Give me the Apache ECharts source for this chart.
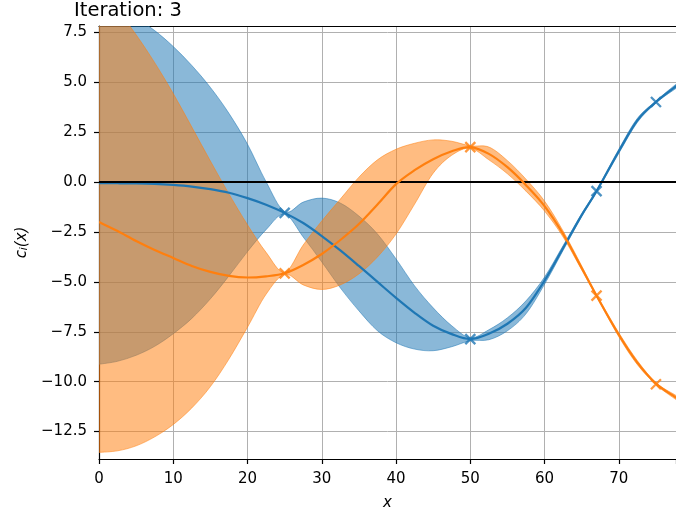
<!DOCTYPE html>
<html>
<head>
<meta charset="utf-8">
<script src="https://cdn.jsdelivr.net/npm/echarts@6/dist/echarts.min.js"></script>
<style>
  html, body { margin: 0; padding: 0; background: #ffffff; }
  #chart { width: 676px; height: 516px; }
</style>
</head>
<body>
<div id="chart"></div>
<script>
// Sample positions along x
const xs = [0, 2.5, 5, 7.5, 10, 12.5, 15, 17.5, 20, 22.5, 25, 27.5, 30, 32.5, 35, 37.5, 40, 42.5, 45, 47.5, 50,
            52.5, 55, 57.5, 60, 62.5, 65, 67, 70, 72.5, 75, 77.5, 78];

// Component 1 (blue): posterior mean and band
const blueMean = [-0.05, -0.055, -0.065, -0.09, -0.14, -0.22, -0.35, -0.53, -0.8, -1.13, -1.54, -2.05, -2.7, -3.42, -4.2, -5.0, -5.8, -6.55, -7.2, -7.62, -7.87,
                  -7.6, -7.1, -6.3, -4.94, -3.3, -1.65, -0.45, 1.55, 3.1, 4.02, 4.75, 4.85];
const blueLo = [-9.13, -8.98, -8.68, -8.23, -7.6, -6.83, -5.85, -4.7, -3.48, -2.38, -1.6, -2.75, -4.0, -5.3, -6.45, -7.45, -8.05, -8.37, -8.45, -8.25, -7.95,
                -7.9, -7.45, -6.6, -5.12, -3.42, -1.72, -0.5, 1.45, 3.0, 3.97, 4.65, 4.75];
const blueHi = [8.92, 8.67, 8.22, 7.6, 6.8, 5.85, 4.75, 3.45, 1.9, 0.02, -1.48, -1.0, -0.8, -1.05, -1.7, -2.6, -3.85, -5.2, -6.3, -7.2, -7.8,
                -7.4, -6.8, -5.95, -4.76, -3.18, -1.58, -0.4, 1.65, 3.2, 4.07, 4.85, 4.95];

// Component 2 (orange): posterior mean and band
const orangeMean = [-2.0, -2.45, -2.95, -3.4, -3.8, -4.2, -4.5, -4.7, -4.78, -4.72, -4.57, -4.15, -3.6, -2.9, -2.1, -1.12, -0.1, 0.6, 1.15, 1.55, 1.76,
                    1.42, 0.75, -0.15, -1.2, -2.6, -4.3, -5.69, -7.65, -9.05, -10.1, -10.75, -10.85];
const orangeLo = [-13.55, -13.47, -13.22, -12.77, -12.15, -11.32, -10.25, -8.87, -7.27, -5.62, -4.62, -5.15, -5.38, -5.15, -4.6, -3.75, -2.6, -1.1, 0.45, 1.35, 1.7,
                  1.12, 0.42, -0.45, -1.45, -2.75, -4.4, -5.74, -7.75, -9.15, -10.15, -10.85, -10.95];
const orangeHi = [9.77, 8.64, 7.39, 5.99, 4.44, 2.76, 1.06, -0.59, -2.14, -3.52, -4.52, -3.15, -1.95, -0.85, 0.25, 1.12, 1.65, 1.95, 2.12, 2.05, 1.82,
                  1.76, 1.08, 0.15, -0.95, -2.45, -4.2, -5.64, -7.55, -8.95, -10.05, -10.65, -10.75];

// Observed points
const obsX = [25, 50, 67, 75];
const blueObs = [-1.54, -7.87, -0.45, 4.02];
const orangeObs = [-4.57, 1.76, -5.69, -10.13];

// Axis ticks
const xTicks = [0, 10, 20, 30, 40, 50, 60, 70];
const yTicks = [-12.5, -10, -7.5, -5, -2.5, 0, 2.5, 5, 7.5];

const BLUE = '#1f77b4';
const ORANGE = '#ff7f0e';
const BLUE_FILL = 'rgba(31,119,180,0.52)';
const ORANGE_FILL = 'rgba(255,127,14,0.52)';
const FONT = 'DejaVu Sans';

function pairs(x, y) { return x.map((v, i) => [v, y[i]]); }

// Cubic Bezier segments (Catmull-Rom tangents) through a list of pixel points
function curveTo(pts, first) {
  const n = pts.length;
  let d = (first ? 'M' : 'L') + pts[0][0].toFixed(2) + ' ' + pts[0][1].toFixed(2);
  for (let i = 0; i < n - 1; i++) {
    const p0 = pts[Math.max(i - 1, 0)], p1 = pts[i], p2 = pts[i + 1], p3 = pts[Math.min(i + 2, n - 1)];
    const c1 = [p1[0] + (p2[0] - p0[0]) / 6, p1[1] + (p2[1] - p0[1]) / 6];
    const c2 = [p2[0] - (p3[0] - p1[0]) / 6, p2[1] - (p3[1] - p1[1]) / 6];
    d += ' C' + c1[0].toFixed(2) + ' ' + c1[1].toFixed(2) + ' ' + c2[0].toFixed(2) + ' ' + c2[1].toFixed(2) +
         ' ' + p2[0].toFixed(2) + ' ' + p2[1].toFixed(2);
  }
  return d;
}

function clipRect(cs) {
  return { type: 'rect', shape: { x: cs.x, y: cs.y, width: cs.width, height: cs.height } };
}

// Filled band between lo and hi, drawn once as a closed curved shape
function bandSeries(lo, hi, fill) {
  return {
    type: 'custom',
    silent: true,
    z: 2,
    data: xs.map((x, i) => [x, lo[i], hi[i]]),
    encode: { x: 0, y: [1, 2] },
    renderItem: function (params, api) {
      if (params.dataIndex !== 0) return null;
      const upper = xs.map((x, i) => api.coord([x, hi[i]]));
      const lower = xs.map((x, i) => api.coord([x, lo[i]])).reverse();
      return {
        type: 'path',
        shape: { pathData: curveTo(upper, true) + ' ' + curveTo(lower, false) + ' Z' },
        style: { fill: fill, stroke: fill, lineWidth: 1 },
        clipPath: clipRect(params.coordSys)
      };
    }
  };
}

// Mean curve, drawn with the same curve construction as the bands
function curveSeries(y, color, z) {
  return {
    type: 'custom',
    silent: true,
    z: z,
    data: pairs(xs, y),
    encode: { x: 0, y: 1 },
    renderItem: function (params, api) {
      if (params.dataIndex !== 0) return null;
      const pts = xs.map((x, i) => api.coord([x, y[i]]));
      return {
        type: 'path',
        shape: { pathData: curveTo(pts, true) },
        style: { fill: null, stroke: color, lineWidth: 2.2, lineJoin: 'round', lineCap: 'butt' },
        clipPath: clipRect(params.coordSys)
      };
    }
  };
}

function markerSeries(y, color) {
  return {
    type: 'scatter',
    data: pairs(obsX, y),
    symbol: 'path://M0,0L10,10M10,0L0,10',
    symbolSize: 10,
    silent: true,
    z: 6,
    itemStyle: { color: 'rgba(0,0,0,0)', borderColor: color, borderWidth: 2.3 }
  };
}

const fmtY = v => (v < 0 ? '\u2212' : '') + Math.abs(v).toFixed(1);

const chart = echarts.init(document.getElementById('chart'), null, { renderer: 'canvas' });

chart.setOption({
  animation: false,
  backgroundColor: '#ffffff',
  title: {
    text: 'Iteration: 3',
    left: 74,
    top: 1,
    padding: 0,
    textStyle: { fontFamily: FONT, fontSize: 19.5, fontWeight: 'normal', color: '#000' }
  },
  grid: { left: 99, right: 0, top: 26, bottom: 56, containLabel: false },
  xAxis: [
    {
      type: 'value',
      min: 0,
      max: 77.7,
      interval: 10,
      position: 'bottom',
      name: 'x',
      nameLocation: 'middle',
      nameGap: 37,
      nameTextStyle: { fontFamily: FONT, fontSize: 15, fontStyle: 'italic', color: '#000' },
      axisLine: { onZero: false, lineStyle: { color: '#000', width: 1.2 } },
      axisTick: { show: true, length: 5, inside: false, lineStyle: { color: '#000', width: 1.2 } },
      axisLabel: { fontFamily: FONT, fontSize: 15, color: '#000', margin: 13, customValues: xTicks },
      splitLine: { show: true, lineStyle: { color: '#b0b0b0', width: 1 } }
    },
    {
      type: 'value',
      min: 0,
      max: 77.7,
      position: 'top',
      axisLine: { onZero: false, lineStyle: { color: '#000', width: 1.2 } },
      axisTick: { show: false },
      axisLabel: { show: false },
      splitLine: { show: false }
    }
  ],
  yAxis: {
    type: 'value',
    min: -13.88,
    max: 7.83,
    name: '{c|c}{s|i}{c|(}{v|x}{c|)}',
    nameLocation: 'middle',
    nameGap: 68,
    nameRotate: 90,
    nameTextStyle: {
      color: '#000',
      rich: {
        c: { fontFamily: FONT, fontSize: 15, fontStyle: 'italic', color: '#000' },
        v: { fontFamily: FONT, fontSize: 15, fontStyle: 'italic', color: '#000' },
        s: { fontFamily: FONT, fontSize: 10.5, fontStyle: 'italic', color: '#000', verticalAlign: 'bottom', padding: [6, 0, 0, 0] }
      }
    },
    axisLine: { show: true, onZero: false, lineStyle: { color: '#000', width: 1.2 } },
    axisTick: { show: true, length: 5, inside: false, customValues: yTicks, lineStyle: { color: '#000', width: 1.2 } },
    axisLabel: { fontFamily: FONT, fontSize: 15, color: '#000', margin: 12, customValues: yTicks, formatter: fmtY },
    splitLine: { show: true, lineStyle: { color: '#b0b0b0', width: 1 } }
  },
  series: [
    bandSeries(blueLo, blueHi, BLUE_FILL),
    bandSeries(orangeLo, orangeHi, ORANGE_FILL),
    {
      // horizontal reference line at zero
      type: 'line',
      data: [],
      silent: true,
      z: 3,
      markLine: {
        silent: true,
        symbol: ['none', 'none'],
        label: { show: false },
        lineStyle: { color: '#000', width: 2.2, type: 'solid' },
        data: [{ yAxis: 0 }]
      }
    },
    curveSeries(blueMean, BLUE, 4),
    curveSeries(orangeMean, ORANGE, 5),
    markerSeries(blueObs, BLUE),
    markerSeries(orangeObs, ORANGE)
  ]
});
</script>
</body>
</html>
